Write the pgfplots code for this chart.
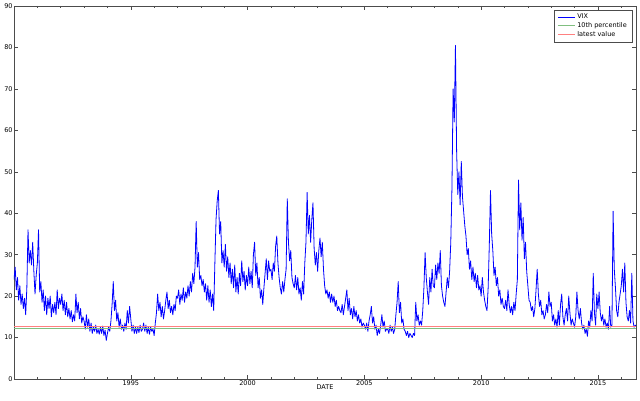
\documentclass[border=0pt]{standalone}
\usepackage{fontspec}
\setmainfont{DejaVu Sans}
\usepackage{pgfplots}
\pgfplotsset{compat=1.18}

% colours roughly as matplotlib classic with alpha on the flat lines
\definecolor{vixblue}{rgb}{0,0,1}
\definecolor{pctgreen}{rgb}{0.5,0.75,0.5}
\definecolor{lastred}{rgb}{1,0.5,0.5}

\begin{document}
\fontsize{6.5}{7.5}\selectfont
\begin{tikzpicture}
\begin{axis}[
  at={(0,0)}, anchor=south west,
  scale only axis,
  width=622pt, height=373pt,
  xmin=1990, xmax=2016.63,
  ymin=0, ymax=90,
  xtick={1995,2000,2005,2010,2015},
  minor xtick={1991,1992,1993,1994,1996,1997,1998,1999,2001,2002,2003,2004,2006,2007,2008,2009,2011,2012,2013,2014,2016},
  ytick={0,10,...,90},
  tick align=inside,
  major tick length=4pt,
  minor tick length=2pt,
  tick style={black!70, line width=0.5pt},
  axis line style={black!70, line width=0.7pt},
  xticklabel style={font=\fontsize{6.5}{7.5}\selectfont, yshift=1pt},
  yticklabel style={font=\fontsize{6.5}{7.5}\selectfont, xshift=1pt},
  /pgf/number format/1000 sep={},
  /pgf/number format/assume math mode=true,
  xlabel={DATE},
  xlabel style={font=\fontsize{6.5}{7.5}\selectfont, yshift=5pt},
  legend style={
    at={(rel axis cs:1,1)}, anchor=north east,
    xshift=-4pt, yshift=-4pt,
    draw=black!70,
    font=\fontsize{6.5}{7.5}\selectfont,
    cells={anchor=west},
    row sep=-1pt,
    inner xsep=3pt, inner ysep=2pt,
  },
]

% legend sample for the VIX trace
\addlegendimage{color=vixblue, line width=0.9pt}
\addlegendentry{VIX}

\addplot[vixblue, line width=0.8pt, line join=round, forget plot] coordinates {
(1990.00,24.0)(1990.05,27.0)(1990.10,21.5)(1990.15,24.5)(1990.20,19.0)(1990.25,22.5)(1990.30,18.0)(1990.35,20.5)(1990.40,17.0)(1990.45,19.5)
(1990.50,15.5)(1990.55,22.0)(1990.60,36.0)(1990.65,28.0)(1990.70,31.0)(1990.75,27.5)(1990.80,33.0)(1990.85,26.0)(1990.90,20.5)(1990.95,25.0)
(1991.00,28.0)(1991.05,36.0)(1991.10,21.0)(1991.15,23.5)(1991.20,18.5)(1991.25,21.5)(1991.30,16.5)(1991.35,20.0)(1991.40,15.5)(1991.45,19.5)
(1991.50,17.0)(1991.55,20.0)(1991.60,15.0)(1991.65,18.0)(1991.70,16.0)(1991.75,18.5)(1991.80,15.5)(1991.85,21.5)(1991.90,17.0)(1991.95,19.5)
(1992.00,18.0)(1992.05,20.5)(1992.10,16.5)(1992.15,19.0)(1992.20,15.5)(1992.25,18.5)(1992.30,15.0)(1992.35,17.0)(1992.40,14.5)(1992.45,16.5)
(1992.50,13.8)(1992.55,15.5)(1992.60,14.0)(1992.65,20.5)(1992.70,16.0)(1992.75,18.5)(1992.80,14.5)(1992.85,17.0)(1992.90,13.5)(1992.95,15.0)
(1993.00,14.0)(1993.05,12.0)(1993.10,15.5)(1993.15,12.5)(1993.20,14.5)(1993.25,11.5)(1993.30,13.5)(1993.35,11.0)(1993.40,12.5)(1993.45,11.5)
(1993.50,13.0)(1993.55,11.0)(1993.60,12.0)(1993.65,10.8)(1993.70,12.5)(1993.75,11.0)(1993.80,12.8)(1993.85,10.5)(1993.90,11.8)(1993.95,9.3)
(1994.00,11.0)(1994.05,12.5)(1994.10,11.5)(1994.15,14.0)(1994.20,18.0)(1994.25,23.5)(1994.30,16.5)(1994.35,19.0)(1994.40,14.0)(1994.45,16.0)
(1994.50,12.5)(1994.55,14.5)(1994.60,12.0)(1994.65,13.0)(1994.70,11.5)(1994.75,13.5)(1994.80,12.0)(1994.85,16.5)(1994.90,13.5)(1994.95,17.5)
(1995.00,14.5)(1995.05,11.5)(1995.10,13.0)(1995.15,11.0)(1995.20,12.5)(1995.25,11.0)(1995.30,12.5)(1995.35,11.2)(1995.40,13.0)(1995.45,11.5)
(1995.50,12.0)(1995.55,13.5)(1995.60,11.5)(1995.65,13.0)(1995.70,11.0)(1995.75,12.5)(1995.80,10.8)(1995.85,12.5)(1995.90,11.5)(1995.95,12.0)
(1996.00,10.5)(1996.05,13.5)(1996.10,16.0)(1996.15,20.5)(1996.20,16.5)(1996.25,18.5)(1996.30,15.0)(1996.35,17.5)(1996.40,14.5)(1996.45,16.5)
(1996.50,19.0)(1996.55,21.0)(1996.60,17.0)(1996.65,19.0)(1996.70,16.0)(1996.75,17.5)(1996.80,15.5)(1996.85,18.0)(1996.90,16.5)(1996.95,20.0)
(1997.00,19.5)(1997.05,21.5)(1997.10,18.0)(1997.15,20.5)(1997.20,19.0)(1997.25,22.0)(1997.30,18.5)(1997.35,21.0)(1997.40,19.5)(1997.45,22.5)
(1997.50,20.0)(1997.55,23.5)(1997.60,21.0)(1997.65,25.5)(1997.70,23.0)(1997.75,27.0)(1997.80,38.0)(1997.85,27.0)(1997.90,30.5)(1997.95,24.0)
(1998.00,25.0)(1998.05,22.5)(1998.10,24.0)(1998.15,21.0)(1998.20,23.0)(1998.25,19.0)(1998.30,22.5)(1998.35,18.5)(1998.40,21.5)(1998.45,17.5)
(1998.50,20.5)(1998.55,16.5)(1998.60,28.0)(1998.65,38.5)(1998.70,43.0)(1998.75,45.5)(1998.80,35.0)(1998.85,38.0)(1998.90,28.0)(1998.95,31.0)
(1999.00,27.0)(1999.05,32.5)(1999.10,26.0)(1999.15,29.5)(1999.20,24.5)(1999.25,28.0)(1999.30,23.0)(1999.35,26.5)(1999.40,22.0)(1999.45,27.5)
(1999.50,21.0)(1999.55,24.5)(1999.60,20.5)(1999.65,25.5)(1999.70,22.5)(1999.75,28.5)(1999.80,23.5)(1999.85,26.0)(1999.90,21.5)(1999.95,25.0)
(2000.00,22.5)(2000.05,27.0)(2000.10,23.0)(2000.15,26.0)(2000.20,22.0)(2000.25,30.0)(2000.30,33.0)(2000.35,25.0)(2000.40,28.0)(2000.45,22.0)
(2000.50,24.5)(2000.55,19.5)(2000.60,21.5)(2000.65,18.0)(2000.70,22.0)(2000.75,25.5)(2000.80,29.0)(2000.85,24.0)(2000.90,28.5)(2000.95,26.0)
(2001.00,26.5)(2001.05,24.0)(2001.10,28.0)(2001.15,26.0)(2001.20,32.0)(2001.25,34.5)(2001.30,28.0)(2001.35,24.5)(2001.40,22.0)(2001.45,20.5)
(2001.50,23.5)(2001.55,21.0)(2001.60,24.0)(2001.65,26.5)(2001.70,43.5)(2001.75,33.0)(2001.80,28.5)(2001.85,31.0)(2001.90,24.5)(2001.95,23.0)
(2002.00,22.0)(2002.05,25.0)(2002.10,21.5)(2002.15,24.5)(2002.20,20.5)(2002.25,22.0)(2002.30,19.0)(2002.35,23.5)(2002.40,20.5)(2002.45,28.0)
(2002.50,33.0)(2002.55,45.0)(2002.60,35.0)(2002.65,39.5)(2002.70,33.0)(2002.75,38.5)(2002.80,42.5)(2002.85,31.5)(2002.90,27.5)(2002.95,30.5)
(2003.00,26.0)(2003.05,31.0)(2003.10,34.0)(2003.15,29.5)(2003.20,33.0)(2003.25,26.5)(2003.30,22.5)(2003.35,20.5)(2003.40,21.5)(2003.45,19.5)
(2003.50,21.0)(2003.55,18.5)(2003.60,20.5)(2003.65,18.5)(2003.70,20.0)(2003.75,17.5)(2003.80,19.0)(2003.85,16.5)(2003.90,17.5)(2003.95,16.5)
(2004.00,16.0)(2004.05,18.0)(2004.10,15.5)(2004.15,17.5)(2004.20,19.5)(2004.25,21.5)(2004.30,16.5)(2004.35,19.5)(2004.40,15.5)(2004.45,17.0)
(2004.50,14.5)(2004.55,17.5)(2004.60,15.0)(2004.65,16.5)(2004.70,14.0)(2004.75,15.5)(2004.80,13.5)(2004.85,14.5)(2004.90,12.5)(2004.95,13.5)
(2005.00,13.0)(2005.05,12.0)(2005.10,13.5)(2005.15,11.5)(2005.20,14.0)(2005.25,15.5)(2005.30,17.5)(2005.35,13.5)(2005.40,15.0)(2005.45,12.0)
(2005.50,13.0)(2005.55,10.5)(2005.60,12.0)(2005.65,11.0)(2005.70,13.0)(2005.75,15.5)(2005.80,12.5)(2005.85,14.0)(2005.90,11.5)(2005.95,12.0)
(2006.00,12.0)(2006.05,11.0)(2006.10,13.0)(2006.15,11.5)(2006.20,12.5)(2006.25,11.0)(2006.30,12.0)(2006.35,15.5)(2006.40,18.5)(2006.45,23.5)
(2006.50,16.0)(2006.55,18.5)(2006.60,13.5)(2006.65,14.5)(2006.70,12.0)(2006.75,11.5)(2006.80,10.5)(2006.85,11.5)(2006.90,10.0)(2006.95,11.0)
(2007.00,10.5)(2007.05,10.0)(2007.10,11.0)(2007.15,10.5)(2007.20,18.5)(2007.25,14.0)(2007.30,15.5)(2007.35,13.0)(2007.40,14.0)(2007.45,13.0)
(2007.50,16.5)(2007.55,22.0)(2007.60,30.5)(2007.65,24.5)(2007.70,21.0)(2007.75,18.0)(2007.80,24.5)(2007.85,21.0)(2007.90,26.5)(2007.95,22.5)
(2008.00,22.0)(2008.05,27.5)(2008.10,24.0)(2008.15,28.0)(2008.20,25.5)(2008.25,31.0)(2008.30,22.5)(2008.35,20.0)(2008.40,18.5)(2008.45,17.5)
(2008.50,21.0)(2008.55,24.5)(2008.60,22.0)(2008.65,26.0)(2008.70,33.0)(2008.75,46.0)(2008.80,70.0)(2008.85,62.0)(2008.90,80.5)(2008.95,55.0)
(2009.00,44.5)(2009.05,50.0)(2009.10,42.0)(2009.15,52.5)(2009.20,44.0)(2009.25,40.5)(2009.30,37.0)(2009.35,34.5)(2009.40,30.0)(2009.45,31.5)
(2009.50,26.5)(2009.55,28.5)(2009.60,24.0)(2009.65,27.0)(2009.70,23.5)(2009.75,25.5)(2009.80,22.0)(2009.85,25.0)(2009.90,21.5)(2009.95,22.5)
(2010.00,20.0)(2010.05,24.5)(2010.10,21.0)(2010.15,19.0)(2010.20,17.5)(2010.25,16.5)(2010.30,22.0)(2010.35,32.5)(2010.40,45.5)(2010.45,35.0)
(2010.50,31.0)(2010.55,25.0)(2010.60,27.0)(2010.65,22.5)(2010.70,24.5)(2010.75,20.0)(2010.80,21.5)(2010.85,18.0)(2010.90,19.5)(2010.95,17.5)
(2011.00,17.0)(2011.05,19.0)(2011.10,16.5)(2011.15,21.5)(2011.20,18.0)(2011.25,16.0)(2011.30,17.5)(2011.35,15.5)(2011.40,18.5)(2011.45,16.5)
(2011.50,20.5)(2011.55,24.0)(2011.60,48.0)(2011.65,36.0)(2011.70,42.5)(2011.75,33.5)(2011.80,39.0)(2011.85,29.0)(2011.90,33.0)(2011.95,26.0)
(2012.00,22.5)(2012.05,19.0)(2012.10,18.5)(2012.15,16.5)(2012.20,17.5)(2012.25,15.0)(2012.30,17.0)(2012.35,21.5)(2012.40,26.5)(2012.45,20.5)
(2012.50,17.5)(2012.55,19.0)(2012.60,15.5)(2012.65,16.5)(2012.70,14.5)(2012.75,15.5)(2012.80,18.0)(2012.85,16.0)(2012.90,21.0)(2012.95,17.5)
(2013.00,18.5)(2013.05,14.0)(2013.10,15.5)(2013.15,13.0)(2013.20,14.5)(2013.25,12.5)(2013.30,16.5)(2013.35,13.0)(2013.40,18.0)(2013.45,20.5)
(2013.50,15.0)(2013.55,13.0)(2013.60,15.5)(2013.65,17.0)(2013.70,14.0)(2013.75,20.0)(2013.80,16.0)(2013.85,13.0)(2013.90,14.5)(2013.95,13.5)
(2014.00,12.5)(2014.05,15.0)(2014.10,21.0)(2014.15,16.5)(2014.20,14.5)(2014.25,17.0)(2014.30,13.5)(2014.35,12.0)(2014.40,13.0)(2014.45,11.0)
(2014.50,12.0)(2014.55,10.3)(2014.60,14.0)(2014.65,12.5)(2014.70,16.5)(2014.75,14.0)(2014.80,25.5)(2014.85,16.0)(2014.90,13.0)(2014.95,20.5)
(2015.00,17.0)(2015.05,21.0)(2015.10,16.0)(2015.15,14.0)(2015.20,15.5)(2015.25,13.0)(2015.30,14.5)(2015.35,12.5)(2015.40,13.5)(2015.45,12.0)
(2015.50,17.5)(2015.55,12.5)(2015.60,13.0)(2015.65,40.5)(2015.70,26.5)(2015.75,22.0)(2015.80,16.5)(2015.85,15.0)(2015.90,18.5)(2015.95,20.5)
(2016.00,22.5)(2016.05,26.5)(2016.10,21.0)(2016.15,28.0)(2016.20,18.5)(2016.25,15.0)(2016.30,14.0)(2016.35,16.5)(2016.40,13.5)(2016.45,25.5)
(2016.50,14.0)(2016.55,12.5)(2016.60,13.0)(2016.63,12.7)
};

\addplot[pctgreen, line width=0.8pt] coordinates {(1990,12.2) (2016.63,12.2)};
\addlegendentry{10th percentile}

\addplot[lastred, line width=0.8pt] coordinates {(1990,12.7) (2016.63,12.7)};
\addlegendentry{latest value}

\end{axis}
\pgfresetboundingbox
\path (-14pt,-21pt) rectangle (626pt,379pt);
\end{tikzpicture}
\end{document}
